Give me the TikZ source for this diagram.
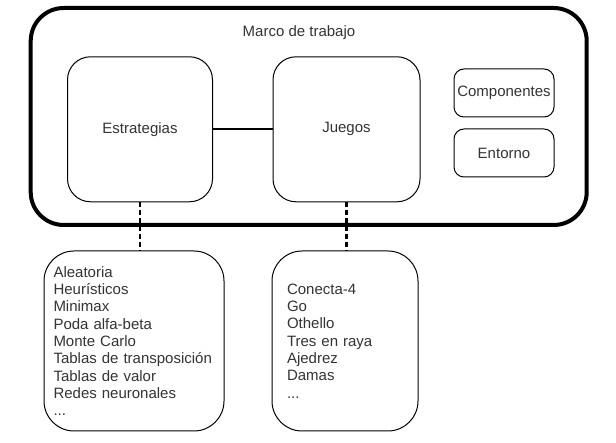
\documentclass[tikz,border=0pt]{standalone}
\usepackage{fontspec}
\setmainfont{Liberation Sans}
\usepackage{tikz}
\usetikzlibrary{arrows.meta}

\begin{document}
\begin{tikzpicture}[x=1pt,y=-1pt,font=\fontsize{15}{17.3}\selectfont]
		\useasboundingbox (0,0) rectangle (616,443);
		% marco exterior
		\node[draw,line width=4pt,rounded corners=33pt,minimum width=556pt,minimum height=217pt] (M) at (308.7,116.5) {};
		\node[text=black!80] (T) at (299,33) {Marco de trabajo};
		
		\begin{scope}[every node/.style={draw,line width=1pt,text=black!80}]
			\node[rounded corners=23pt,minimum width=145pt,minimum height=145pt] (E) at (140,129.3) {Estrategias};
			\node[rounded corners=23pt,minimum width=147pt,minimum height=145pt] (J) at (346.5,129.3) {Juegos};
			\node[rounded corners=10pt,minimum width=100pt,minimum height=48pt,inner sep=1pt] (C) at (504,93) {Componentes};
			\node[rounded corners=10pt,minimum width=100pt,minimum height=48pt] (N) at (504,153) {Entorno};
		\end{scope}
		
		\begin{scope}[every node/.style={draw,line width=1pt,text=black!80,rounded corners=30pt,minimum height=180pt,align=left}]
			\node[text width=161pt,inner xsep=9.5pt] (LE) at (134,341) {Aleatoria\\Heurísticos\\Minimax\\Poda alfa-beta\\Monte Carlo\\Tablas de transposición\\Tablas de valor\\Redes neuronales\\...};
			\node[text width=116pt,inner xsep=15pt] (LJ) at (345,341) {Conecta-4\\Go\\Othello\\Tres en raya\\Ajedrez\\Damas\\...};
		\end{scope}
		
		\begin{scope}[every edge/.style={draw=black,line width=2pt}]
			\path [-] (E) edge (J);
		\end{scope}
		
		\begin{scope}[every edge/.style={draw=black,line width=2.5pt,dash pattern=on 5pt off 3pt}]
			\path [-] (E.south) edge (E.south |- LE.north);
			\path [-] (J.south) edge (J.south |- LJ.north);
		\end{scope}
\end{tikzpicture}
\end{document}
